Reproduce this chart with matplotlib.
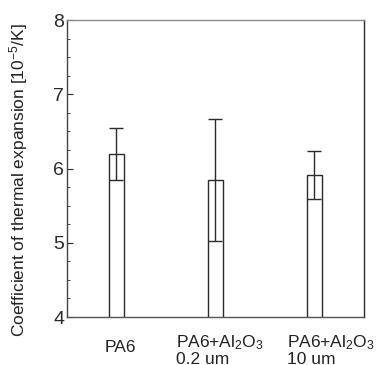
import matplotlib
matplotlib.use("Agg")
import matplotlib.pyplot as plt
from matplotlib.ticker import MultipleLocator
import matplotlib.transforms as mtransforms

plt.rcParams['font.family'] = ['Liberation Sans', 'DejaVu Sans']
plt.rcParams['mathtext.fontset'] = 'custom'
plt.rcParams['mathtext.rm'] = 'Liberation Sans'
plt.rcParams['mathtext.it'] = 'Liberation Sans:italic'

categories = ["PA6", "PA6+Al$\\mathregular{_2}$O$\\mathregular{_3}$\n0.2 um",
              "PA6+Al$\\mathregular{_2}$O$\\mathregular{_3}$\n10 um"]
means = [6.19, 5.84, 5.91]
errors = [0.35, 0.82, 0.32]
positions = [1, 2, 3]

fig = plt.figure(figsize=(3.76, 3.65), dpi=100)
ax = fig.add_axes([0.178, 0.1315, 0.790, 0.8137])

dark = '#2b2b2b'
ax.bar(positions, means, width=0.15, facecolor='white', edgecolor=dark, linewidth=1.0, zorder=2)
ax.errorbar(positions, means, yerr=errors, fmt='none', ecolor=dark, elinewidth=1.0,
            capsize=5.2, capthick=1.0, zorder=3)

ax.set_xlim(0.5, 3.5)
ax.set_ylim(4, 8)
ax.set_xticks(positions)
ax.set_xticklabels(categories, fontsize=12.5, multialignment='left', color='#222222', linespacing=0.95)
ax.tick_params(axis='x', length=0, pad=12)
ax.yaxis.set_major_locator(MultipleLocator(1))
ax.yaxis.set_minor_locator(MultipleLocator(0.25))
ax.tick_params(axis='y', which='major', direction='in', length=4, width=0.8, labelsize=14, pad=2, colors=dark)
ax.tick_params(axis='y', which='minor', direction='in', length=2, width=0.6, colors=dark)

lbls = ax.get_xticklabels()
offsets = [(4, -6), (4, 0), (16, 0)]
for lbl, (dx, dy) in zip(lbls, offsets):
    lbl.set_transform(lbl.get_transform() + mtransforms.ScaledTranslation(dx / 100, dy / 100, fig.dpi_scale_trans))

ax.set_ylabel("Coefficient of thermal expansion [10$\\mathregular{^{-5}}$/K]", fontsize=12.5, color='#222222')
ax.yaxis.label.set_va('center')
ax.yaxis.set_label_coords(-0.162, 0.46)

ax.spines['top'].set_color('#8a8a8a')
ax.spines['right'].set_color(dark)
ax.spines['left'].set_color('#444444')
ax.spines['bottom'].set_color('#555555')
for s in ax.spines.values():
    s.set_linewidth(1.0)

fig.savefig("out.png", dpi=100)
